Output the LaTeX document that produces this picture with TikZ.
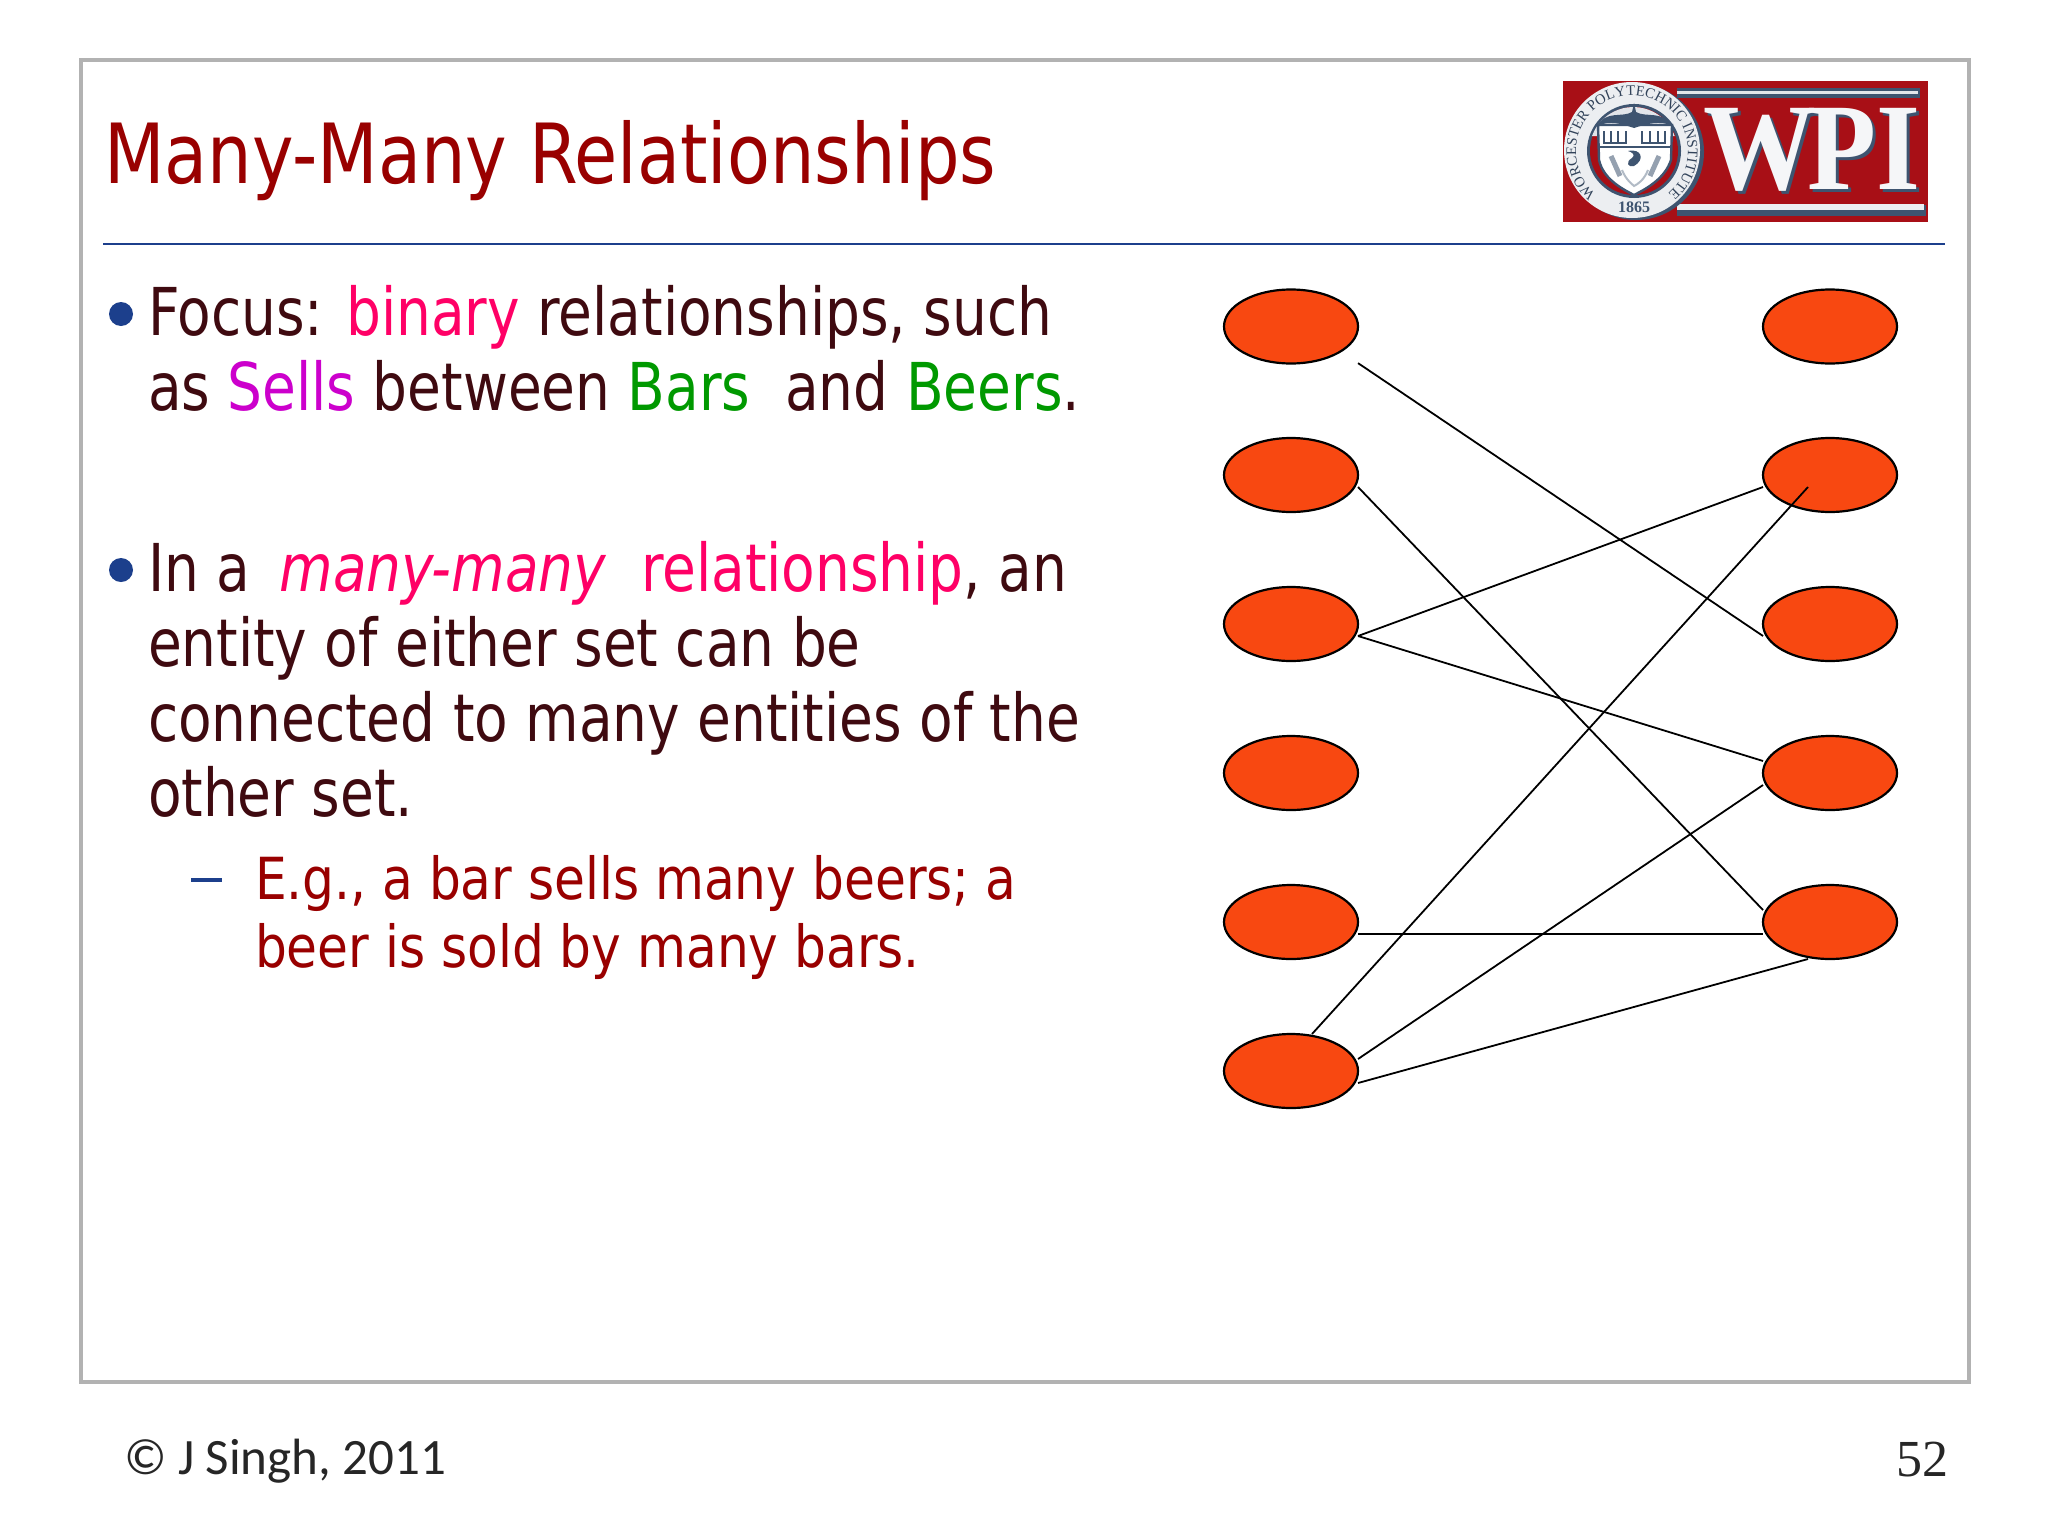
\documentclass[tikz,border=0pt]{standalone}
\usepackage{fontspec}
\setmainfont{DejaVu Sans Condensed}
\newfontfamily\bodyfont[FakeStretch=0.925]{DejaVu Sans Condensed}
\newfontfamily\titlefont[FakeStretch=0.94]{DejaVu Sans Condensed}
\newfontfamily\subfont[FakeStretch=0.962]{DejaVu Sans Condensed}
\newfontfamily\footfont{Carlito}
\newfontfamily\numfont{Liberation Serif}
\usetikzlibrary{shapes.geometric,calc,decorations.text}
\definecolor{bodycol}{HTML}{3F0A10}
\definecolor{titlecol}{HTML}{990000}
\definecolor{pinkcol}{HTML}{FF0066}
\definecolor{magcol}{HTML}{CC00CC}
\definecolor{greencol}{HTML}{009900}
\definecolor{bluecol}{HTML}{1C3F8C}
\definecolor{orangecol}{HTML}{F84811}
\definecolor{framecol}{HTML}{B2B2B2}
\definecolor{logored}{HTML}{A80F16}
\definecolor{logoblue}{HTML}{3E5470}
\newcommand{\pk}[1]{\textcolor{pinkcol}{#1}}
\newcommand{\mg}[1]{\textcolor{magcol}{#1}}
\newcommand{\gr}[1]{\textcolor{greencol}{#1}}
\tikzset{
  txt/.style={anchor=base west,inner sep=0pt,outer sep=0pt},
  bodytxt/.style={txt,text=bodycol,font=\bodyfont\fontsize{33}{40}\selectfont},
  subtxt/.style={txt,text=titlecol,font=\subfont\fontsize{29}{36}\selectfont},
  blob/.style={ellipse,draw=black,line width=1.1pt,fill=orangecol,minimum width=67pt,minimum height=37pt,inner sep=0pt,outer sep=0pt},
  link/.style={draw=black,line width=0.9pt},
  bul/.style={circle,fill=bluecol,minimum size=12pt,inner sep=0pt}
}
\begin{document}
\begin{tikzpicture}[x=0.5pt,y=-0.5pt]
\useasboundingbox (0,0) rectangle (2048,1536);
\fill[white] (0,0) rectangle (2048,1536);
\draw[framecol,line width=2pt] (81,60) rectangle (1969,1382);
\draw[bluecol,line width=1.1pt] (103,244) -- (1945,244);
\node[txt,text=titlecol,font=\titlefont\fontsize{41.5}{50}\selectfont] (title) at (104,183) {Many-Many Relationships};
% logo
\fill[logored] (1563,81) rectangle (1928,222);
\fill[logoblue] (1677,88) rectangle (1920,98);
\fill[white!85!logoblue] (1677,91) rectangle (1918,94);
\fill[logoblue] (1677,205) rectangle (1926,216);
\fill[white!90!logoblue] (1677,204) rectangle (1924,210);
\node[inner sep=0pt,anchor=base,xscale=0.91,text=logoblue,font=\numfont\bfseries\fontsize{62}{62}\selectfont] (wpishadow) at (1815,192) {W\kern-5ptPI};
\node[inner sep=0pt,anchor=base,xscale=0.91,text=white!95!logoblue,font=\numfont\bfseries\fontsize{62}{62}\selectfont] (wpi) at (1812,189) {W\kern-5ptPI};
% seal
\fill[logoblue] (1636,152) circle[radius=68];
\fill[white!90!logoblue] (1632,150) circle[radius=68];
\fill[logoblue] (1634,151) circle[radius=47];
\fill[logored] (1634,151) circle[radius=44];
\path[postaction={decorate,decoration={text along path,text align={fit to path},
  text={|\numfont\fontsize{7.3}{9}\selectfont\color{logoblue!80!black}|WORCESTER POLYTECHNIC INSTITUTE}}}]
  (1596,194) arc[start angle=130,end angle=410,radius=56];
\node[inner sep=0pt,text=logoblue,font=\numfont\bfseries\fontsize{8}{9}\selectfont] (year) at (1634,207) {1865};
\fill[white!88!logoblue] (1634,106) circle[radius=0];
\fill[white!85!logoblue] (1634,151) ++(-42,-15) arc[start angle=200,end angle=340,radius=44] -- cycle;
\fill[white] (1598,125) -- (1672,125) -- (1671,160) .. controls (1665,178) and (1648,188) .. (1634,195) .. controls (1620,188) and (1603,178) .. (1599,160) -- cycle;
\draw[logoblue,line width=1.2pt] (1598,125) -- (1672,125) -- (1671,160) .. controls (1665,178) and (1648,188) .. (1634,195) .. controls (1620,188) and (1603,178) .. (1599,160) -- cycle;
\fill[logoblue] (1597,126) .. controls (1606,110) and (1622,118) .. (1632,112) -- (1634,103) -- (1636,112) .. controls (1646,118) and (1662,110) .. (1673,126) .. controls (1660,120) and (1646,124) .. (1634,128) .. controls (1622,124) and (1610,120) .. (1597,126) -- cycle;
\draw[logoblue,line width=1.1pt] (1604,131) -- (1604,143) (1611,131) -- (1611,143) (1618,131) -- (1618,143) (1626,131) -- (1626,143) (1603,143) -- (1627,143);
\draw[logoblue,line width=1.1pt] (1642,131) -- (1642,143) (1650,131) -- (1650,143) (1658,131) -- (1658,143) (1665,131) -- (1665,143) (1641,143) -- (1666,143);
\draw[logoblue,line width=0.6pt] (1599,147) -- (1671,147);
\fill[logoblue] (1628,151) .. controls (1642,148) and (1645,160) .. (1634,166) .. controls (1628,168) and (1625,162) .. (1632,158) .. controls (1636,155) and (1632,152) .. (1628,151) -- cycle;
\draw[logoblue!55,line width=2.5pt] (1611,156) -- (1620,176) (1659,156) -- (1650,176);
\draw[logoblue!40,line width=1pt] (1622,170) .. controls (1626,180) and (1632,184) .. (1634,186) .. controls (1638,184) and (1644,180) .. (1648,170);
% bullets and text
\node[bul] (b1) at (121,314) {};
\node[bodytxt] (t1) at (148,335.5) {Focus: \pk{binary} relationships, such};
\node[bodytxt] (t2) at (148,410) {as \mg{Sells} between \gr{Bars}\ \ and \gr{Beers}.};
\node[bul] (b2) at (121,570) {};
\node[bodytxt] (t3) at (148,591.5) {In a\kern6pt{} \pk{\itshape many-many}\ \ \pk{relationship}, an};
\node[bodytxt] (t4) at (148,666.5) {entity of either set can be};
\node[bodytxt] (t5) at (148,741.5) {connected to many entities of the};
\node[bodytxt] (t6) at (148,816) {other set.};
\draw[bluecol,line width=1.6pt] (191,880) -- (222,880);
\node[subtxt] (s1) at (255,899.5) {E.g., a bar sells many beers; a};
\node[subtxt] (s2) at (255,967.5) {beer is sold by many bars.};
\foreach \n/\y in {1/326.5,2/475,3/624,4/773,5/922,6/1071}{
  \node[blob] (L\n) at (1291,\y) {};
}
\foreach \n/\y in {1/326.5,2/475,3/624,4/773,5/922}{
  \node[blob] (R\n) at (1830,\y) {};
}
\draw[link] ($(L1.east)+(0,36.6)$) -- ($(R3.west)+(0,12)$);
\draw[link] ($(L2.east)+(0,12)$) -- ($(R5.west)+(0,-12)$);
\draw[link] ($(L3.east)+(0,12)$) -- ($(R2.west)+(0,12)$);
\draw[link] ($(L3.east)+(0,12)$) -- ($(R4.west)+(0,-12)$);
\draw[link] ($(L5.east)+(0,12)$) -- ($(R5.west)+(0,12)$);
\draw[link] ($(L6.north)+(21,0)$) -- ($(R2.center)+(-22,12)$);
\draw[link] ($(L6.east)+(0,-12)$) -- ($(R4.west)+(0,12)$);
\draw[link] ($(L6.east)+(0,12)$) -- ($(R5.south)+(-22,0)$);
\node[txt,text=black!85,font=\footfont\fontsize{25.5}{30}\selectfont] (foot) at (124,1474) {© J Singh, 2011};
\node[txt,anchor=base east,text=black!85,font=\numfont\fontsize{26}{30}\selectfont] (num) at (1948,1476) {52};
\end{tikzpicture}
\end{document}
